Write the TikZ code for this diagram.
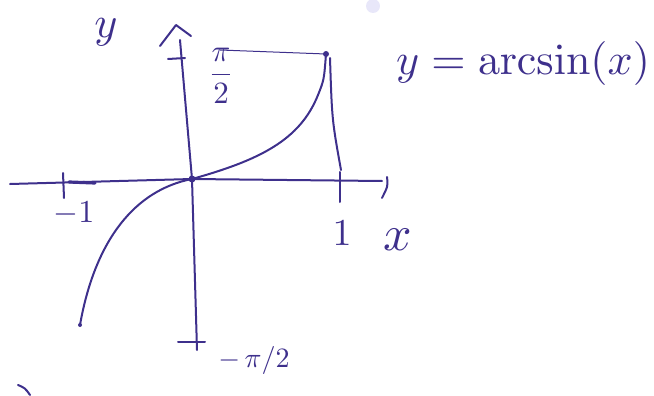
\documentclass[tikz,border=0pt]{standalone}
\usepackage{amsmath}
\definecolor{ink}{RGB}{62,48,140}
\tikzset{
  pen/.style={draw=ink, line width=2pt, line cap=round, line join=round},
  thinpen/.style={draw=ink, line width=1pt, line cap=round},
  lbl/.style={text=ink, inner sep=0pt},
}
\begin{document}
\begin{tikzpicture}[x=1pt,y=-1pt]
\useasboundingbox (0,0) rectangle (654,396);
% faint smudge
\fill[blue!50!ink, opacity=0.1] (373,6) circle (7);
% coordinates
\coordinate (O) at (192,179);
\coordinate (xl) at (10,184);
\coordinate (xr) at (382,181);
\coordinate (yb) at (197,350);
\coordinate (yt) at (180,40);
\coordinate (P) at (326,54);
\coordinate (Q) at (80,325);
% x-axis
\draw[pen] (xl) -- (O) -- (xr);
\draw[pen] (387,177) .. controls (388,186) .. (382,198);
% y-axis
\draw[pen] (yb) -- (O) -- (yt);
\draw[pen] (160,46) -- (176,25) -- (191,36);
% ticks
\draw[pen] (168,59) -- (185,58);
\draw[pen] (178,342) -- (205,342);
\draw[pen] (63,173) -- (64,198);
\draw[ink, line width=3.2pt, line cap=round] (69,182) -- (95,183);
\draw[pen] (340,172) -- (340,202);
% guide lines
\draw[thinpen] (220,50) -- (P);
\draw[pen] (330,58) .. controls (332,120) .. (341,170);
% the arcsin curve
\draw[pen] (Q) .. controls (95,240) and (135,190) .. (O)
           .. controls (260,160) and (300,140) .. (318,95)
           .. controls (324,80) .. (P);
\fill[ink] (O) circle (3.5);
\fill[ink] (P) circle (3);
\fill[ink] (Q) circle (2);
% bottom-left stroke
\draw[pen] (18,385) .. controls (25,388) .. (30,395);
% labels
\node[lbl] (ylab) at (106,32) {\scalebox{4.4}{$y$}};
\node[lbl] (xlab) at (398,240) {\scalebox{5}{$x$}};
\node[lbl] (one) at (342,233) {\scalebox{3.8}{$1$}};
\node[lbl] (mone) at (74,214) {\scalebox{3.2}{$-1$}};
\node[lbl] (pih) at (221,76) {\scalebox{3.1}{$\dfrac{\pi}{2}$}};
\node[lbl] (mpih) at (254,360) {\scalebox{2.8}{$-\,\pi/2$}};
\node[lbl] (title) at (523,64) {\scalebox{4.4}{$y=\arcsin(x)$}};
\end{tikzpicture}
\end{document}
